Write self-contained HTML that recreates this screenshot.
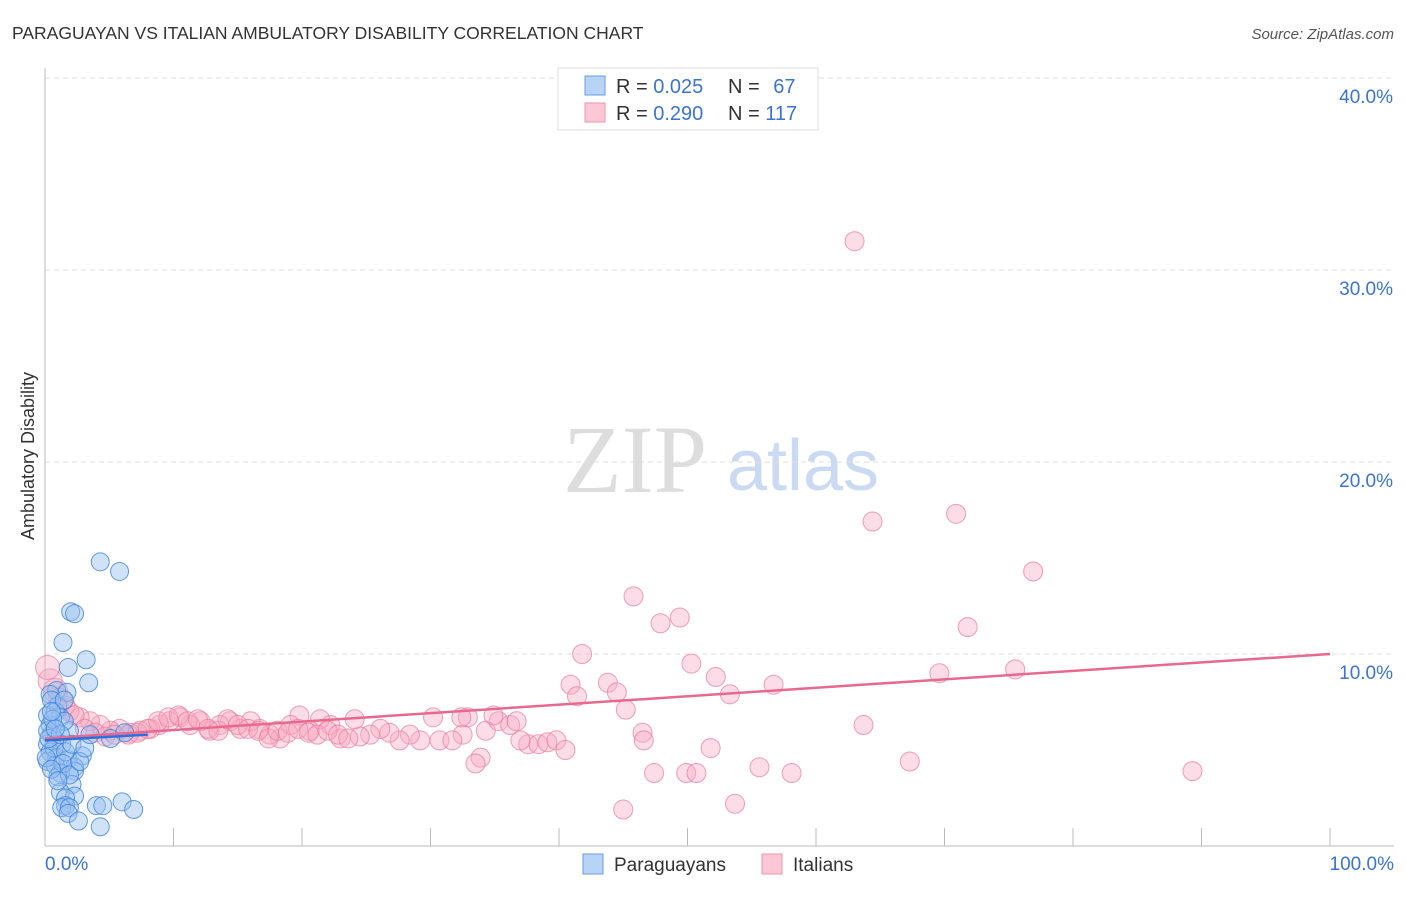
<!DOCTYPE html>
<html><head><meta charset="utf-8"><style>
body{margin:0;background:#fff;font-family:"Liberation Sans",sans-serif}
</style></head><body>
<svg width="1406" height="892" viewBox="0 0 1406 892" font-family="Liberation Sans, sans-serif">
<text x="12" y="39" font-size="17.5" fill="#333">PARAGUAYAN VS ITALIAN AMBULATORY DISABILITY CORRELATION CHART</text>
<text x="1394" y="39" font-size="15" fill="#555" font-style="italic" text-anchor="end">Source: ZipAtlas.com</text>
<g>
<text x="635" y="492" font-size="96" fill="#ddd" style="font-family:'Liberation Serif',serif" text-anchor="middle">ZIP</text>
<text x="803" y="490" font-size="72" fill="#c9daf2" text-anchor="middle">atlas</text>
</g>
<g id="grid"></g>
<g id="axes"></g>
<g id="marks"></g>
<text transform="translate(34,456) rotate(-90)" font-size="18" fill="#333" text-anchor="middle">Ambulatory Disability</text>
<g>
<rect x="558" y="68" width="260" height="62" fill="#fff" stroke="#ddd"/>
<rect x="585" y="76" width="20" height="19" fill="#b7d3f5" stroke="#6a9de0"/>
<rect x="585" y="103" width="20" height="19" fill="#fcc8d6" stroke="#ee93ad"/>
<text x="616" y="93" font-size="20" fill="#333">R = <tspan fill="#3b74d1">0.025</tspan></text>
<text x="728" y="93" font-size="20" fill="#333">N = <tspan fill="#3b74d1" dx="8">67</tspan></text>
<text x="616" y="120" font-size="20" fill="#333">R = <tspan fill="#3b74d1">0.290</tspan></text>
<text x="728" y="120" font-size="20" fill="#333">N = <tspan fill="#3b74d1">117</tspan></text>
</g>
<g>
<rect x="583" y="854" width="20" height="20" fill="#b7d3f5" stroke="#6a9de0"/>
<text x="614" y="871" font-size="19" fill="#333">Paraguayans</text>
<rect x="762" y="854" width="20" height="20" fill="#fcc8d6" stroke="#ee93ad"/>
<text x="793" y="871" font-size="19" fill="#333">Italians</text>
</g>
</svg>
<script>
const yTicks=[10,20,30,40];
const yTickLabels=["10.0%","20.0%","30.0%","40.0%"];
const xTickLabels=["0.0%","100.0%"];
const blueX=[4.3,5.8,2.0,2.3,1.4,3.2,1.8,3.4,0.9,1.7,0.4,1.0,0.2,1.2,1.9,0.4,0.5,0.8,0.2,1.3,0.4,0.9,2.9,1.8,0.2,0.8,2.3,1.2,1.0,2.3,2.1,1.2,2.3,1.6,1.6,1.3,1.9,1.8,2.6,4.3,4.0,4.5,6.0,6.9,0.5,0.8,1.5,0.2,0.7,1.6,0.1,1.4,1.9,2.7,0.5,1.0,0.3,0.6,1.2,2.1,3.1,3.5,6.2,5.1,1.5,0.8,0.5];
const blueY=[14.8,14.3,12.2,12.1,10.6,9.7,9.3,8.5,8.1,8.0,7.9,7.3,6.8,6.7,6.0,6.3,5.8,5.5,5.3,5.3,4.9,4.6,4.7,4.5,4.4,4.2,4.1,3.8,3.6,3.9,3.2,2.8,2.6,2.5,2.1,2.0,2.0,1.7,1.3,1.0,2.1,2.1,2.3,1.9,7.6,7.0,6.5,6.0,5.1,4.9,4.6,4.3,3.7,4.4,4.0,3.4,5.6,6.6,5.8,5.3,5.1,5.8,5.9,5.6,7.6,6.1,7.0];
const pinkX=[63.0,64.4,70.9,76.9,71.8,45.8,49.4,47.9,41.8,50.3,69.6,75.5,52.2,43.8,40.9,44.5,53.3,56.7,41.4,45.2,63.7,51.8,46.5,46.6,67.3,47.4,49.9,50.7,55.6,58.1,89.3,53.7,45.0,34.3,33.9,33.5,37.6,38.4,39.1,39.8,37.0,32.5,32.9,35.3,36.2,36.7,34.9,30.2,32.4,40.5,30.7,31.7,29.2,28.4,27.6,26.8,26.1,25.3,24.5,24.1,23.0,22.2,21.4,20.6,19.8,19.1,18.3,17.5,16.7,16.0,15.2,14.4,13.6,12.8,12.1,11.3,10.5,9.7,8.9,8.2,7.4,6.6,5.8,5.1,4.3,3.5,2.7,1.9,1.2,0.8,0.4,0.2,1.6,2.3,3.1,3.9,4.7,5.4,6.5,7.2,8.0,8.8,9.6,10.4,11.1,11.9,12.7,13.5,14.2,15.0,15.8,16.6,17.4,18.1,18.9,19.7,20.5,21.2,22.0,22.8,23.6];
const pinkY=[31.5,16.9,17.3,14.3,11.4,13.0,11.9,11.6,10.0,9.5,9.0,9.2,8.8,8.5,8.4,8.0,7.9,8.4,7.8,7.1,6.3,5.1,5.9,5.5,4.4,3.8,3.8,3.8,4.1,3.8,3.9,2.2,1.9,6.0,4.6,4.3,5.3,5.3,5.4,5.5,5.5,5.8,6.7,6.5,6.3,6.5,6.8,6.7,6.7,5.0,5.5,5.5,5.5,5.8,5.5,5.9,6.1,5.8,5.7,6.6,5.6,6.3,6.6,6.0,6.8,6.3,5.6,5.8,6.1,6.5,6.1,6.5,6.3,6.0,6.5,6.3,6.7,6.5,6.3,6.1,6.0,5.9,6.1,6.0,6.3,6.5,6.7,7.0,7.6,8.1,8.6,9.3,7.3,6.8,6.1,5.9,5.7,5.8,5.8,5.9,6.1,6.5,6.7,6.8,6.5,6.6,6.1,6.0,6.6,6.3,6.1,6.0,5.6,6.0,5.9,6.1,5.9,5.8,6.0,5.8,5.6];
const blueTrend=[[0,5.5],[8,5.8]];
const pinkTrend=[[0,5.6],[100,10.0]];
const X=v=>45+v*12.85, Y=v=>846-v*19.2;
const NS="http://www.w3.org/2000/svg";
function mk(tag,attrs,parent){const e=document.createElementNS(NS,tag);for(const k in attrs)e.setAttribute(k,attrs[k]);document.getElementById(parent).appendChild(e);return e;}
yTicks.forEach((t,i)=>{
 const g=mk('line',{x1:45,x2:1394,y1:Y(t),y2:Y(t),stroke:'#ddd','stroke-dasharray':'5,4'},'grid');
 
 
 const l=mk('text',{x:1393,y:Y(t)+25,'font-size':19,fill:'#3b74d1','text-anchor':'end'},'axes');
 l.textContent=yTickLabels[i];
 
 
});
let a=mk('line',{x1:45,x2:45,y1:68,y2:846,stroke:'#bbb'},'axes');


a=mk('line',{x1:45,x2:1394,y1:846,y2:846,stroke:'#bbb'},'axes');


for(let i=1;i<=10;i++){
 const t=mk('line',{x1:X(i*10),x2:X(i*10),y1:828,y2:846,stroke:'#bbb'},'axes');
 
 
}
[[0,'start',45],[1,'end',1394]].forEach(([i,anc,x])=>{
 const t=mk('text',{x:x,y:870,'font-size':19,fill:'#3b74d1','text-anchor':anc},'axes');
 t.textContent=xTickLabels[i];
 
 
});
pinkX.forEach((x,i)=>{
 const c=mk('circle',{cx:X(x),cy:Y(pinkY[i]),r:(x<1.5?12:9.5),fill:'rgba(248,170,195,0.4)',stroke:'rgba(235,120,155,0.7)','stroke-width':1},'marks');
 
 
});
blueX.forEach((x,i)=>{
 const c=mk('circle',{cx:X(x),cy:Y(blueY[i]),r:9,fill:'rgba(150,190,240,0.45)',stroke:'rgba(60,130,220,0.8)','stroke-width':1},'marks');
 
 
});
let tl=mk('line',{x1:X(pinkTrend[0][0]),y1:Y(pinkTrend[0][1]),x2:X(pinkTrend[1][0]),y2:Y(pinkTrend[1][1]),stroke:'#e8698f','stroke-width':2.5},'marks');


tl=mk('line',{x1:X(blueTrend[0][0]),y1:Y(blueTrend[0][1]),x2:X(blueTrend[1][0]),y2:Y(blueTrend[1][1]),stroke:'#2f6fd6','stroke-width':2.5},'marks');


</script>
</body></html>
